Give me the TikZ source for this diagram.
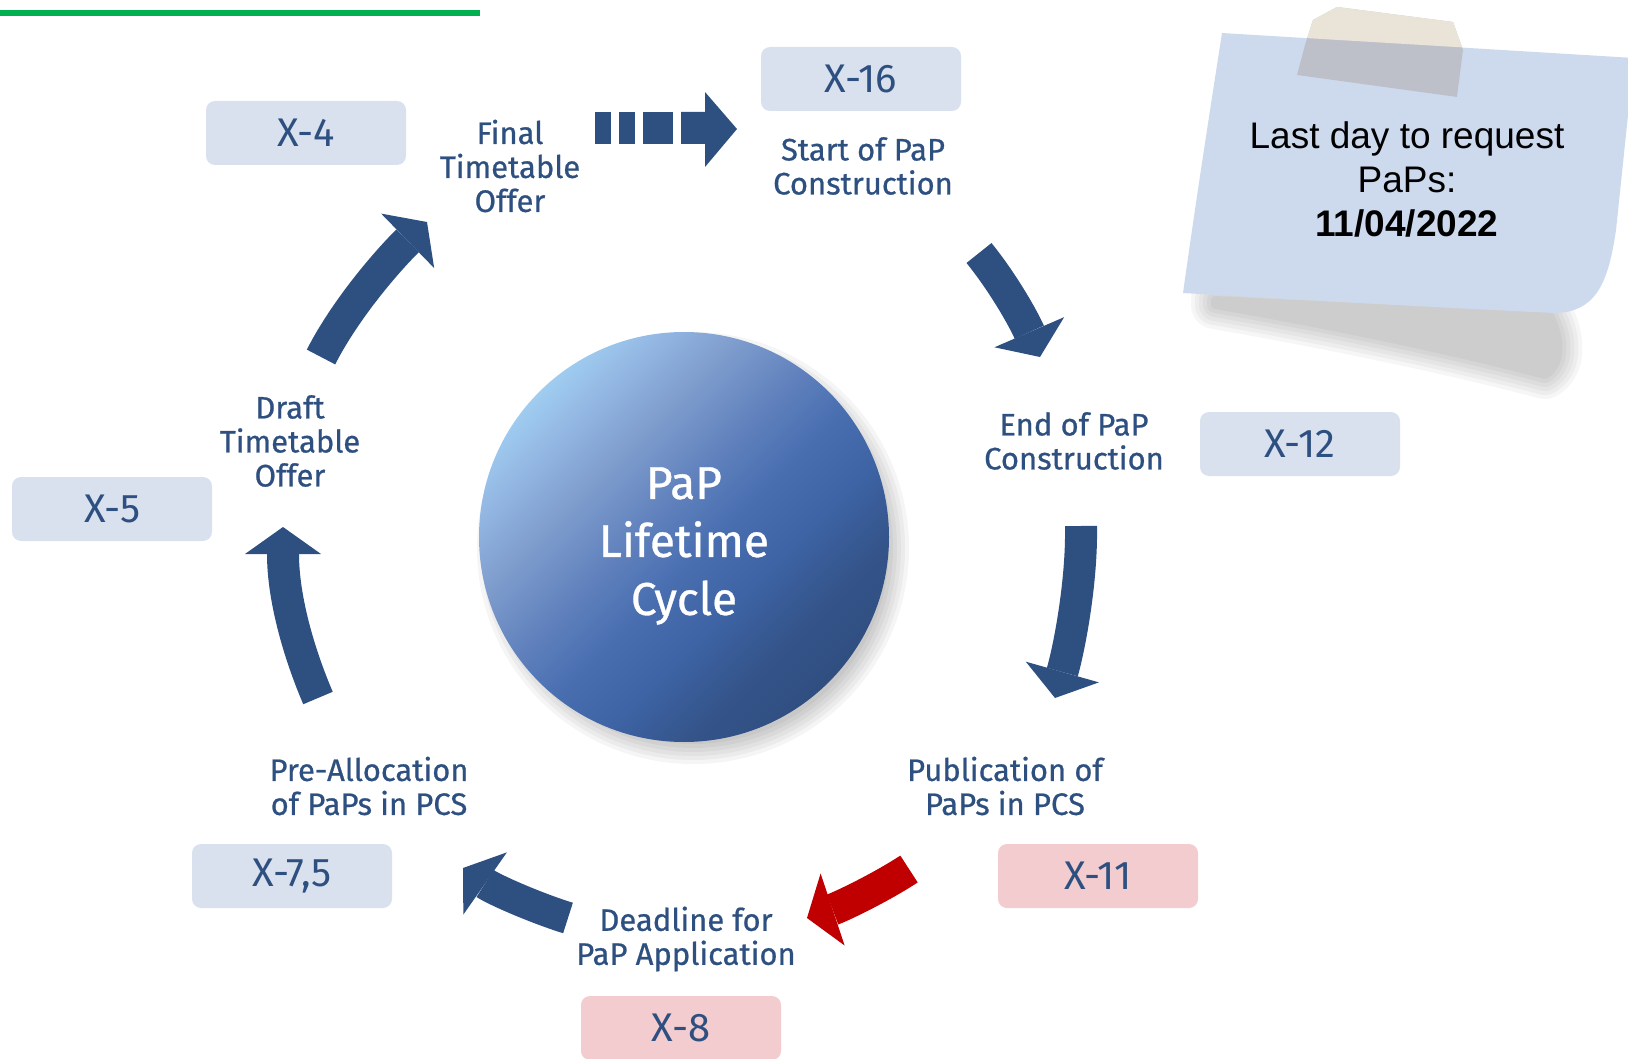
\documentclass[tikz,border=0pt]{standalone}
\usepackage{fontspec}
\setmainfont{Fira Sans}
\newfontfamily\medfont[FakeBold=0.7]{Fira Sans}
\newfontfamily\notefont{Liberation Sans}
\usetikzlibrary{arrows.meta}
\definecolor{navy}{RGB}{46,80,128}
\definecolor{boxblue}{RGB}{218,225,238}
\definecolor{boxpink}{RGB}{242,204,206}
\definecolor{notecol}{RGB}{205,218,238}
\definecolor{tapecream}{RGB}{234,228,216}
\definecolor{tapegrey}{RGB}{188,190,197}
\definecolor{darkred}{RGB}{192,0,0}
\definecolor{greenline}{RGB}{0,176,80}
\definecolor{cs1}{RGB}{48,78,128}
\definecolor{cs2}{RGB}{52,84,138}
\definecolor{cs3}{RGB}{62,100,165}
\definecolor{cs4}{RGB}{72,110,176}
\definecolor{cs5}{RGB}{95,128,188}
\definecolor{cs6}{RGB}{128,158,206}
\definecolor{cs7}{RGB}{148,185,228}
\definecolor{cs8}{RGB}{162,208,242}
\pgfdeclareverticalshading{circsh}{100bp}{color(0bp)=(cs1); color(25bp)=(cs1); color(32bp)=(cs2);
  color(40bp)=(cs3); color(47bp)=(cs4); color(54bp)=(cs5); color(63bp)=(cs6);
  color(70bp)=(cs7); color(76bp)=(cs8); color(100bp)=(cs8)}
\tikzset{
  datebox/.style={fill=boxblue, rounded corners=9pt, minimum width=200pt, minimum height=64pt,
    text=navy, font=\fontsize{40}{44}\selectfont, inner sep=0pt},
  datepink/.style={datebox, fill=boxpink},
  stage/.style={text=navy, align=center, font=\medfont\fontsize{31}{34}\selectfont, inner sep=0pt},
  flow/.style={draw=navy, line width=32pt, line cap=butt,
    -{Triangle[width=76pt,length=27pt,line width=0pt]}},
  redflow/.style={flow, draw=darkred},
}
\begin{document}
\begin{tikzpicture}[x=1pt,y=-1pt]
\useasboundingbox (0,0) rectangle (1628,1059);
\clip (0,0) rectangle (1628,1059);

% green line
\coordinate (g1) at (0,13);
\coordinate (g2) at (480,13);
\draw[greenline, line width=6pt] (g1) -- (g2);

% sticky note shadow (soft)
\foreach \w in {48,40,32,24,16,8}{
  \begin{scope}[transparency group, opacity=0.035]
  \filldraw[black, line width=\w pt, line join=round]
    (1215,300) -- (1550,316) .. controls (1562,340) and (1562,365) .. (1545,375)
    .. controls (1450,350) and (1330,325) .. (1215,305) -- cycle;
  \end{scope}
}

% sticky note
\fill[notecol] (1222,33) -- (1634,58) -- (1616,230)
  .. controls (1608,285) and (1595,312) .. (1555,313)
  .. controls (1450,308) and (1300,300) .. (1183,293)
  .. controls (1196,200) and (1210,110) .. (1222,33) -- cycle;
\node[font=\notefont\fontsize{37}{44}\selectfont, align=center, text=black] (note) at (1407,179)
  {Last day to request\\PaPs:\\\textbf{11/04/2022}};

% tape
\fill[tapegrey, opacity=0.9] (1313,20) -- (1337,7) -- (1453,22) -- (1463,50) -- (1457,97) -- (1297,75) -- (1305,45) -- cycle;
\begin{scope}
  \clip (1200,0) -- (1640,0) -- (1640,58) -- (1222,33) -- cycle;
  \fill[tapecream] (1313,20) -- (1337,7) -- (1453,22) -- (1463,50) -- (1457,97) -- (1297,75) -- (1305,45) -- cycle;
\end{scope}

% date boxes
\node[datebox] (x16) at (861,79) {X-16};
\node[datebox] (x4) at (306,133) {X-4};
\node[datebox] (x12) at (1300,444) {X-12};
\node[datebox] (x5) at (112,509) {X-5};
\node[datebox] (x75) at (292,876) {X-7,5};
\node[datepink] (x11) at (1098,876) {X-11};
\node[datepink] (x8) at (681,1028) {X-8};

% stage labels
\node[stage] (final) at (510,166) {Final\\Timetable\\Offer};
\node[stage] (start) at (863,166) {Start of PaP\\Construction};
\node[stage] (endc) at (1074,441) {End of PaP\\Construction};
\node[stage] (draft) at (290,441) {Draft\\Timetable\\Offer};
\node[stage] (prealloc) at (369,786) {Pre-Allocation\\of PaPs in PCS};
\node[stage] (publ) at (1005,786) {Publication of\\PaPs in PCS};
\node[stage] (deadline) at (686,939) {Deadline for\\PaP Application};

% central circle shadow
\foreach \r in {196,200,204,208,212,216}
  \fill[black, opacity=0.04] (693,548) circle (\r pt);
% central circle
\node[circle, minimum size=410pt, inner sep=0pt, shading=circsh, shading angle=45] (cycle) at (684,537) {};
\node[text=white, align=center, font=\medfont\fontsize{46}{58}\selectfont, inner sep=0pt]
  (cycletext) at (684,546) {PaP\\Lifetime\\Cycle};

% striped arrow Final -> Start
\fill[navy] (595,112) rectangle (611,144);
\fill[navy] (619,112) rectangle (635,144);
\fill[navy] (643,112) rectangle (673,144);
\fill[navy] (681,112) -- (705,112) -- (705,92) -- (737,129) -- (705,167) -- (705,144) -- (681,144) -- cycle;

% curved arrows
\coordinate (a1s) at (979,253);  \coordinate (a1e) at (1040,357);
\coordinate (a2s) at (1081,526); \coordinate (a2e) at (1055,698);
\coordinate (a3s) at (909,869);  \coordinate (a3e) at (807,918);
\coordinate (a4s) at (568,918);  \coordinate (a4e) at (463,868);
\coordinate (a5s) at (318,698);  \coordinate (a5e) at (283,527);
\coordinate (a6s) at (321,357);  \coordinate (a6e) at (427,222);

\draw[flow] (a1s) .. controls (1004,284) and (1024,320) .. (a1e);
\draw[flow] (a2s) .. controls (1082,580) and (1070,645) .. (a2e);
\draw[redflow] (a3s) .. controls (880,888) and (840,907) .. (a3e);
\draw[flow] (a4s) .. controls (533,907) and (493,889) .. (a4e);
\draw[flow] (a5s) .. controls (300,656) and (283,600) .. (a5e);
\draw[flow] (a6s) .. controls (346,308) and (389,259) .. (a6e);
\end{tikzpicture}
\end{document}
